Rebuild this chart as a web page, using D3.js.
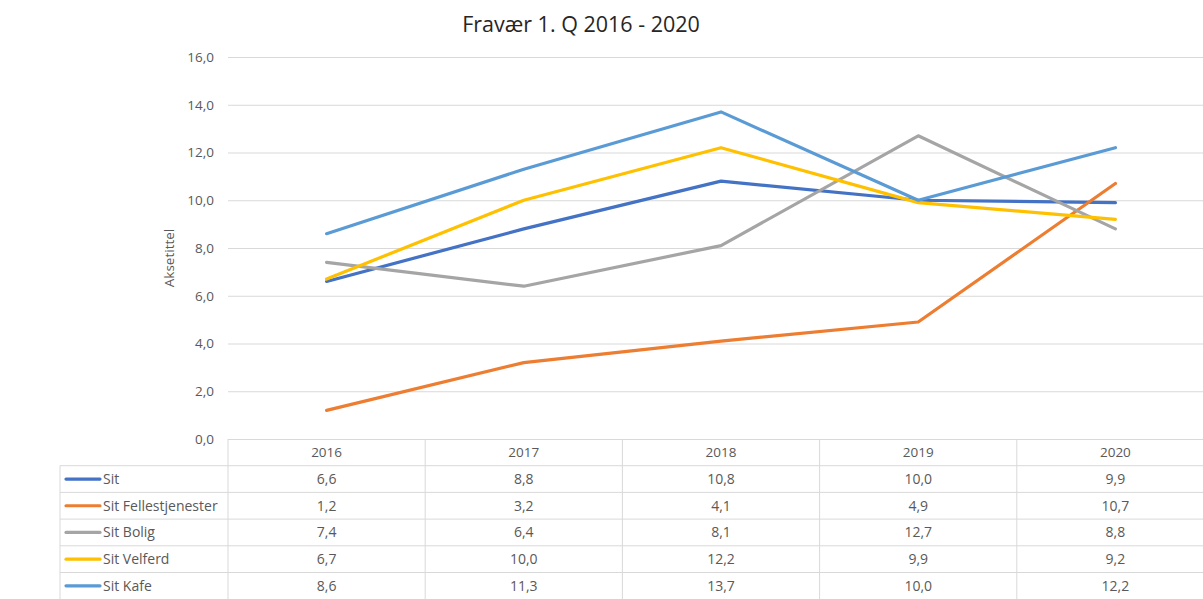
<!DOCTYPE html>
<html>
<head>
<meta charset="utf-8">
<script src="https://cdn.jsdelivr.net/npm/d3@7"></script>
<style>
  body { margin: 0; background: #fff; overflow: hidden; }
  text { font-family: "Open Sans", "Noto Sans", sans-serif; fill: #595959; }
</style>
</head>
<body>
<script>
const years = ["2016", "2017", "2018", "2019", "2020"];
const seriesNames = ["Sit", "Sit Fellestjenester", "Sit Bolig", "Sit Velferd", "Sit Kafe"];
const sit = [6.6, 8.8, 10.8, 10.0, 9.9];
const sitFelles = [1.2, 3.2, 4.1, 4.9, 10.7];
const sitBolig = [7.4, 6.4, 8.1, 12.7, 8.8];
const sitVelferd = [6.7, 10.0, 12.2, 9.9, 9.2];
const sitKafe = [8.6, 11.3, 13.7, 10.0, 12.2];
const yTicks = [0, 2, 4, 6, 8, 10, 12, 14, 16];
const colors = ["#4472C4", "#ED7D31", "#A5A5A5", "#FFC000", "#5B9BD5"];

const series = [sit, sitFelles, sitBolig, sitVelferd, sitKafe].map((v, i) => ({name: seriesNames[i], values: v, color: colors[i]}));

const w = 1203, h = 599;
const plotLeft = 228, plotRight = 1214, plotTop = 57, plotBottom = 439;
const rowH = 26.7;
const fmt = v => d3.format(".1f")(v).replace(".", ",");

const svg = d3.select("body").append("svg").attr("width", w).attr("height", h);

svg.append("text").text("Fravær 1. Q 2016 - 2020")
   .attr("x", 581).attr("y", 32).attr("text-anchor", "middle")
   .style("font-size", "21.5px").style("fill", "#262626");

const xScale = d3.scaleBand().domain(years).range([plotLeft, plotRight]);
const yScale = d3.scaleLinear().domain([0, 16]).range([plotBottom, plotTop]);

// gridlines + y axis labels
const yAxis = d3.axisLeft(yScale).tickValues(yTicks).tickSize(-(plotRight - plotLeft)).tickFormat(fmt);
const gy = svg.append("g").attr("transform", `translate(${plotLeft},0)`).call(yAxis);
gy.select(".domain").remove();
gy.selectAll(".tick line").attr("stroke", "#d9d9d9");
gy.selectAll(".tick text").attr("x", -14).style("font-size", "13.5px").style("fill", "#595959");

svg.append("text").text("Aksetittel")
   .attr("transform", `translate(174,${(plotTop + plotBottom) / 2 + 10}) rotate(-90)`)
   .attr("text-anchor", "middle").style("font-size", "13.5px");

// lines
const line = d3.line().x((d, i) => xScale(years[i]) + xScale.bandwidth() / 2).y(d => yScale(d));
svg.selectAll(".series").data(series).enter().append("path")
   .attr("class", "series")
   .attr("d", d => line(d.values))
   .attr("fill", "none").attr("stroke", d => d.color)
   .attr("stroke-width", 3.2).attr("stroke-linejoin", "round").attr("stroke-linecap", "round");

// data table
const tbl = svg.append("g");
const gridC = "#d9d9d9";
const tableLeft = 60;
// header row
years.forEach(y => {
  tbl.append("text").text(y)
     .attr("x", xScale(y) + xScale.bandwidth() / 2).attr("y", plotBottom + rowH / 2 + 5)
     .attr("text-anchor", "middle").style("font-size", "13.5px");
});
// vertical lines
xScale.domain().forEach(y => {
  tbl.append("line").attr("x1", xScale(y)).attr("x2", xScale(y))
     .attr("y1", plotBottom).attr("y2", h).attr("stroke", gridC);
});
tbl.append("line").attr("x1", tableLeft).attr("x2", tableLeft)
   .attr("y1", plotBottom + rowH).attr("y2", h).attr("stroke", gridC);
// horizontal lines
d3.range(1, 6).forEach(r => {
  tbl.append("line").attr("x1", tableLeft).attr("x2", plotRight)
     .attr("y1", plotBottom + rowH * r).attr("y2", plotBottom + rowH * r).attr("stroke", gridC);
});
series.forEach((s, r) => {
  const cy = plotBottom + rowH * (r + 1) + rowH / 2;
  tbl.append("line").attr("x1", 66).attr("x2", 100).attr("y1", cy).attr("y2", cy)
     .attr("stroke", s.color).attr("stroke-width", 3.2).attr("stroke-linecap", "round");
  tbl.append("text").text(s.name).attr("x", 103).attr("y", cy + 5).style("font-size", "14px");
  s.values.forEach((v, i) => {
    tbl.append("text").text(fmt(v))
       .attr("x", xScale(years[i]) + xScale.bandwidth() / 2).attr("y", cy + 5)
       .attr("text-anchor", "middle").style("font-size", "14px");
  });
});
</script>
</body>
</html>
